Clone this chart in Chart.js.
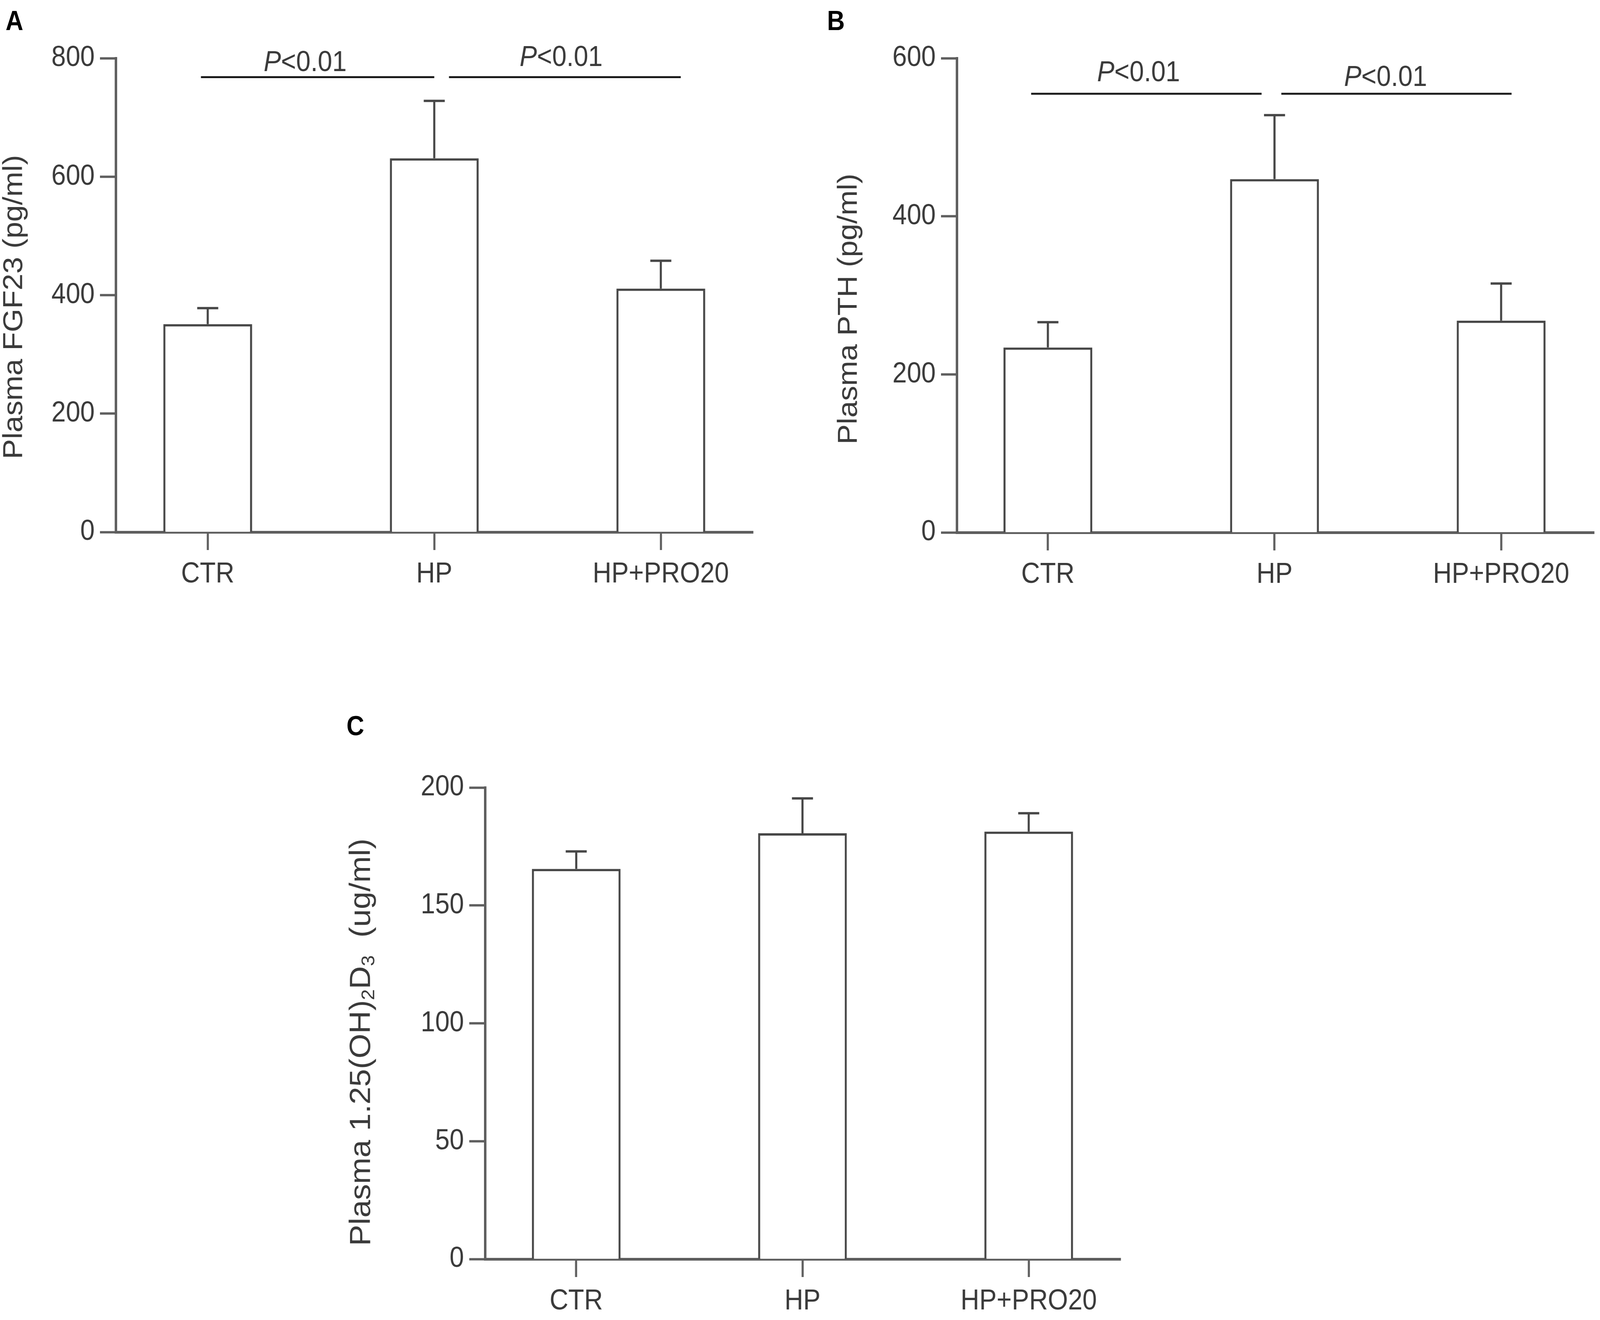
<!DOCTYPE html>
<html>
<head>
<meta charset="utf-8">
<script src="https://cdn.jsdelivr.net/npm/chart.js@4.4.1/dist/chart.umd.min.js"></script>
<style>
  html, body { margin: 0; padding: 0; background: #fff; overflow: hidden; }
  #page { position: absolute; left: 0; top: 0; width: 4562px; height: 3379px; transform-origin: 0 0; background: #fff; }
  canvas { position: absolute; }
  .tag { position: absolute; font: bold 70px "Liberation Sans", Arial, sans-serif; line-height: 1; color: #000; }
</style>
</head>
<body>
<div id="page">
  <div class="tag" style="left:16px;top:18px">A</div>
  <div class="tag" style="left:2358px;top:18px">B</div>
  <div class="tag" style="left:988px;top:1823px">C</div>
  <canvas id="chartA"></canvas>
  <canvas id="chartB"></canvas>
  <canvas id="chartC"></canvas>
</div>
<script>
// group names on the x axis
const categories = ["CTR", "HP", "HP+PRO20"];

// A: plasma FGF23 (pg/ml), mean and upper error
const fgf23Mean = [351, 631, 411];
const fgf23Err = [27, 97, 47];
const fgf23Ticks = [0, 200, 400, 600, 800];

// B: plasma PTH (pg/ml)
const pthMean = [234, 447, 268];
const pthErr = [32, 81, 47];
const pthTicks = [0, 200, 400, 600];

// C: plasma 1.25(OH)2D3 (ug/ml)
const vitdMean = [165.5, 180.6, 181.3];
const vitdErr = [7.4, 14.8, 7.8];
const vitdTicks = [0, 50, 100, 150, 200];

// significance bars: from/to in category units, line level and text level in y units
const sigLabel = "<0.01";
const fgf23Sig = [
    { from: -0.03, to: 1.0, y: 768, at: 0.43, textY: 778 },
    { from: 1.065, to: 2.088, y: 768, at: 1.56, textY: 787 },
];
const pthSig = [
    { from: -0.074, to: 0.943, y: 555, at: 0.40, textY: 571 },
    { from: 1.03, to: 2.046, y: 555, at: 1.49, textY: 565 },
];

const FONT = '"Liberation Sans", Arial, sans-serif';
const TEXT = "#3a3a3a";
const AXIS = "#5e5e5e";
const BAR = "#474747";
const SIG = "#1a1a1a";

// the figure is laid out on a 4562 x 3379 sheet; fit that sheet to the real window
const page = document.getElementById("page");
page.style.transform = "scale(" + window.innerWidth / 4562 + "," + window.innerHeight / 3379 + ")";

function errorBars(errors) {
    return {
        id: "errorBars",
        afterDatasetsDraw(chart) {
            const ctx = chart.ctx;
            const ys = chart.scales.y;
            const ds = chart.data.datasets[0];
            chart.getDatasetMeta(0).data.forEach((bar, i) => {
                const top = ys.getPixelForValue(ds.data[i].y + errors[i]);
                ctx.save();
                ctx.strokeStyle = BAR;
                ctx.lineWidth = 6;
                ctx.beginPath();
                ctx.moveTo(bar.x, bar.y);
                ctx.lineTo(bar.x, top);
                ctx.moveTo(bar.x - 30, top);
                ctx.lineTo(bar.x + 30, top);
                ctx.stroke();
                ctx.restore();
            });
        },
    };
}

function sigBars(items) {
    return {
        id: "sigBars",
        afterDraw(chart) {
            const ctx = chart.ctx;
            const xs = chart.scales.x, ys = chart.scales.y;
            items.forEach((s) => {
                const y = ys.getPixelForValue(s.y);
                ctx.save();
                ctx.strokeStyle = SIG;
                ctx.lineWidth = 5;
                ctx.beginPath();
                ctx.moveTo(xs.getPixelForValue(s.from), y);
                ctx.lineTo(xs.getPixelForValue(s.to), y);
                ctx.stroke();

                const ty = ys.getPixelForValue(s.textY);
                ctx.fillStyle = TEXT;
                ctx.textBaseline = "alphabetic";
                ctx.font = "italic 74px " + FONT;
                const wp = ctx.measureText("P").width;
                ctx.font = "74px " + FONT;
                const wr = ctx.measureText(sigLabel).width;
                const x = xs.getPixelForValue(s.at) - (wp + wr) / 2;
                ctx.font = "italic 74px " + FONT;
                ctx.fillText("P", x, ty);
                ctx.font = "74px " + FONT;
                ctx.fillText(sigLabel, x + wp, ty);
                ctx.restore();
            });
        },
    };
}

// rotated y-axis title, allows subscript pieces
function yTitle(parts, pos) {
    return {
        id: "yTitle",
        afterDraw(chart) {
            const ctx = chart.ctx;
            ctx.save();
            ctx.translate(pos.x, pos.y);
            ctx.rotate(-Math.PI / 2);
            ctx.scale(pos.sx || 1, 1);
            ctx.fillStyle = TEXT;
            ctx.textBaseline = "alphabetic";
            const fontOf = (p) => (p.sub ? Math.round(pos.size * 0.62) : pos.size) + "px " + FONT;
            let total = 0;
            parts.forEach((p) => {
                ctx.font = fontOf(p);
                total += ctx.measureText(p.t).width;
            });
            let x = -total / 2;
            parts.forEach((p) => {
                ctx.font = fontOf(p);
                ctx.fillText(p.t, x, p.sub ? pos.size * 0.14 : 0);
                x += ctx.measureText(p.t).width;
            });
            ctx.restore();
        },
    };
}

function makePanel(id, g, mean, errors, yTicks, title, titlePos, sig) {
    const canvas = document.getElementById(id);
    canvas.width = g.w;
    canvas.height = g.h;
    canvas.style.left = g.left + "px";
    canvas.style.top = g.top + "px";

    const tickFont = { family: FONT, size: 74 };
    const plugins = [errorBars(errors), yTitle(title, titlePos)];
    if (sig) plugins.push(sigBars(sig));

    return new Chart(canvas, {
        type: "bar",
        data: {
            datasets: [
                {
                    data: categories.map((c, i) => ({ x: i, y: mean[i] })),
                    backgroundColor: "#ffffff",
                    borderColor: BAR,
                    borderWidth: 6,
                    barPercentage: 1,
                    categoryPercentage: 0.392,
                },
            ],
        },
        options: {
            responsive: false,
            animation: false,
            devicePixelRatio: 1,
            layout: {
                padding: {
                    left: 0,
                    top: g.axisTop - g.top,
                    right: g.left + g.w - g.axisRight,
                    bottom: 0,
                },
            },
            plugins: {
                legend: { display: false },
                tooltip: { enabled: false },
            },
            scales: {
                x: {
                    type: "linear",
                    offset: false,
                    min: g.xMin,
                    max: g.xMax,
                    afterBuildTicks: (s) => {
                        s.ticks = categories.map((c, i) => ({ value: i }));
                    },
                    afterFit: (s) => {
                        s.height = g.top + g.h - g.axisBottom;
                    },
                    ticks: {
                        callback: (v) => categories[v],
                        font: tickFont,
                        color: TEXT,
                        padding: 18,
                        maxRotation: 0,
                        autoSkip: false,
                    },
                    grid: {
                        offset: false,
                        drawOnChartArea: false,
                        drawTicks: true,
                        tickLength: 46,
                        tickWidth: 6,
                        tickColor: AXIS,
                    },
                    border: { display: true, width: 7, color: AXIS },
                },
                y: {
                    min: yTicks[0],
                    max: yTicks[yTicks.length - 1],
                    afterBuildTicks: (s) => {
                        s.ticks = yTicks.map((v) => ({ value: v }));
                    },
                    afterFit: (s) => {
                        s.width = g.axisX - g.left;
                    },
                    ticks: { font: tickFont, color: TEXT, padding: 15 },
                    grid: {
                        drawOnChartArea: false,
                        drawTicks: true,
                        tickLength: 45,
                        tickWidth: 6,
                        tickColor: AXIS,
                    },
                    border: { display: true, width: 7, color: AXIS },
                },
            },
        },
        plugins: plugins,
    });
}

makePanel("chartA",
    { left: 0, top: 0, w: 2200, h: 1530, axisX: 330, axisTop: 149, axisBottom: 1362, axisRight: 2147, xMin: -0.406, xMax: 2.407 },
    fgf23Mean, fgf23Err, fgf23Ticks,
    [{ t: "Plasma FGF23 (pg/ml)" }],
    { x: 63, y: 786, size: 77 },
    fgf23Sig);

makePanel("chartB",
    { left: 2380, top: 0, w: 2182, h: 1530, axisX: 2728, axisTop: 149, axisBottom: 1363, axisRight: 4545, xMin: -0.402, xMax: 2.41 },
    pthMean, pthErr, pthTicks,
    [{ t: "Plasma PTH (pg/ml)" }],
    { x: 63, y: 791, size: 77 },
    pthSig);

makePanel("chartC",
    { left: 960, top: 1900, w: 2295, h: 1479, axisX: 1383, axisTop: 2016, axisBottom: 3223, axisRight: 3195, xMin: -0.403, xMax: 2.406 },
    vitdMean, vitdErr, vitdTicks,
    [{ t: "Plasma 1.25(OH)" }, { t: "2", sub: true }, { t: "D" }, { t: "3", sub: true }, { t: "  (ug/ml)" }],
    { x: 95, y: 768, size: 84, sx: 0.97 },
    null);
</script>
</body>
</html>
